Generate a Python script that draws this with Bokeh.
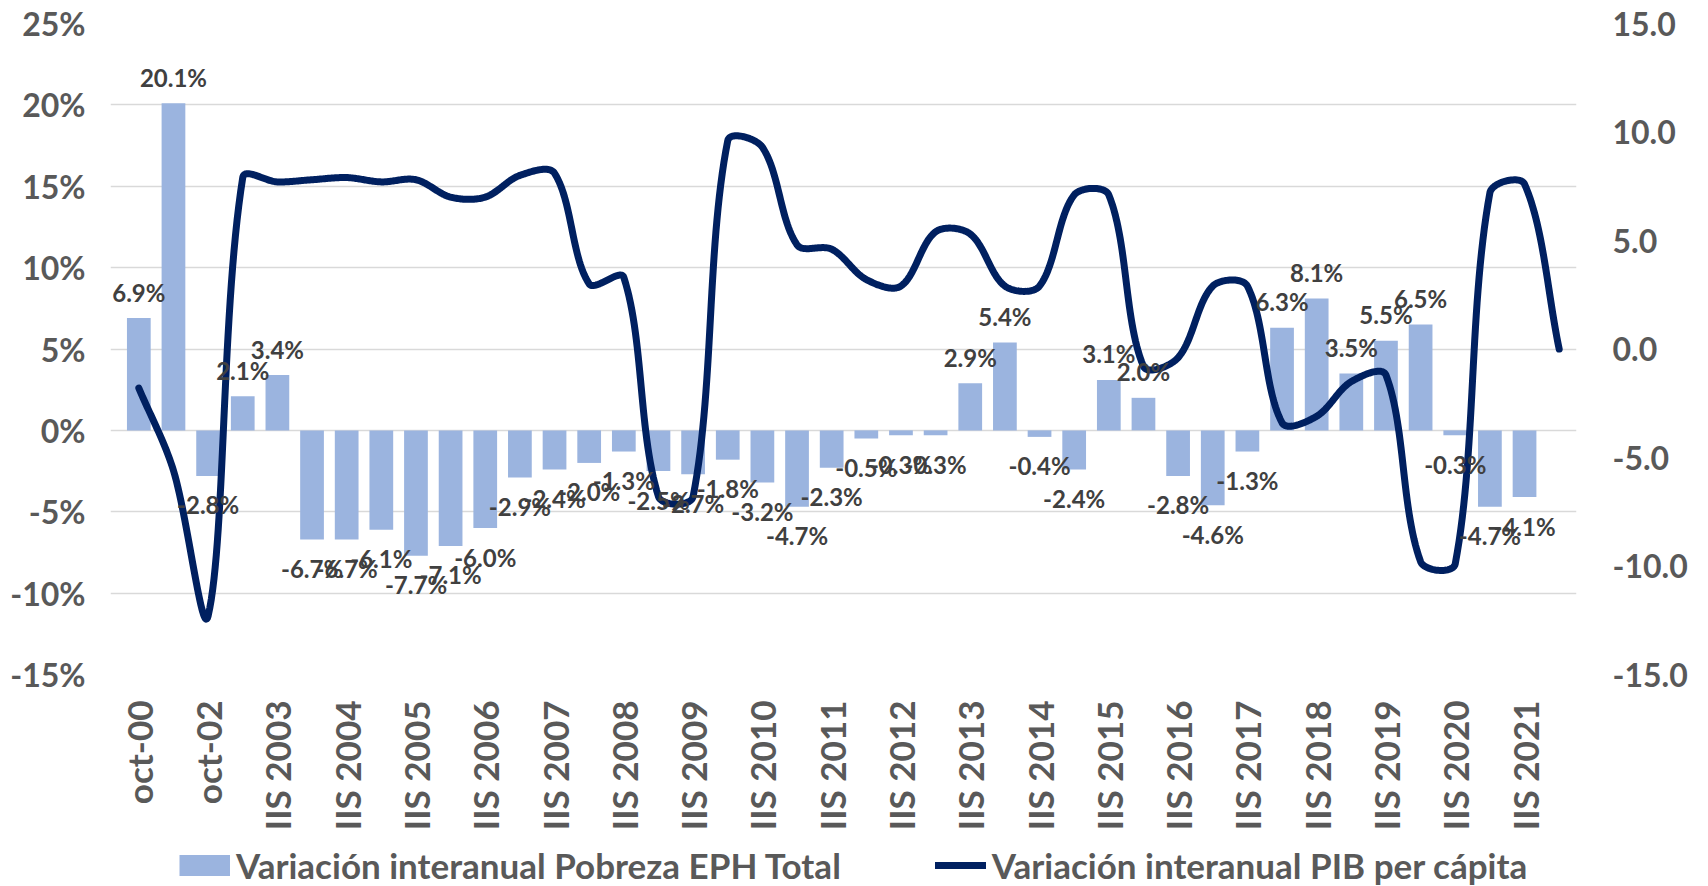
import numpy as np
from bokeh.plotting import figure
from bokeh.layouts import column
from bokeh.models import (Range1d, LinearAxis, FixedTicker, PrintfTickFormatter,
                          ColumnDataSource, Legend, LegendItem)
from bokeh.embed import file_html
from bokeh.resources import INLINE
from bokeh.core.properties import value

categories = ["oct-00", "oct-01", "oct-02", "may-03", "IIS 2003",
              "IS 2004", "IIS 2004", "IS 2005", "IIS 2005", "IS 2006", "IIS 2006",
              "IS 2007", "IIS 2007", "IS 2008", "IIS 2008", "IS 2009", "IIS 2009",
              "IS 2010", "IIS 2010", "IS 2011", "IIS 2011", "IS 2012", "IIS 2012",
              "IS 2013", "IIS 2013", "IS 2014", "IIS 2014", "IS 2015", "IIS 2015",
              "IS 2016", "IIS 2016", "IS 2017", "IIS 2017", "IS 2018", "IIS 2018",
              "IS 2019", "IIS 2019", "IS 2020", "IIS 2020", "IS 2021", "IIS 2021",
              "IS 2022"]

pobreza = [6.9, 20.1, -2.8, 2.1, 3.4, -6.7, -6.7, -6.1, -7.7, -7.1, -6.0,
           -2.9, -2.4, -2.0, -1.3, -2.5, -2.7, -1.8, -3.2, -4.7, -2.3,
           -0.5, -0.3, -0.3, 2.9, 5.4, -0.4, -2.4, 3.1, 2.0, -2.8,
           -4.6, -1.3, 6.3, 8.1, 3.5, 5.5, 6.5, -0.3, -4.7, -4.1]

pib = [-1.8, -5.6, -12.3, 7.9, 7.7, 7.8, 7.9, 7.7, 7.8, 7.0, 7.0,
       8.0, 8.1, 3.0, 3.3, -6.8, -6.8, 9.6, 9.3, 4.8, 4.6,
       3.2, 2.9, 5.4, 5.3, 2.9, 2.9, 7.1, 7.1, -0.8, -0.4,
       2.9, 2.9, -3.4, -3.1, -1.5, -1.2, -9.8, -9.9, 7.2, 7.6, 0.0]

left_ticks = [-15, -10, -5, 0, 5, 10, 15, 20, 25]
right_ticks = [-15, -10, -5, 0, 5, 10, 15]

BAR = "#9BB4DF"
LINE = "#002060"
FONT = "Lato"

PLOT_LEFT, PLOT_W, FRAME_H = 121, 1455, 651
EXTRA_LEFT = 11  # room so that the first data label is not clipped


def smooth(xs, ys, sx, sy, n=30):
    """Excel-like smoothed line: Bezier segments whose control points follow the
    neighbour direction, scaled by adjacent segment lengths (in pixel space)."""
    P = np.column_stack([np.asarray(xs, float) * sx, np.asarray(ys, float) * sy])
    m = len(P)
    cout = np.zeros_like(P)
    cin = np.zeros_like(P)
    for i in range(m):
        a = P[max(i - 1, 0)]
        b = P[min(i + 1, m - 1)]
        d = b - a
        l1 = np.hypot(*(P[i] - a))
        l2 = np.hypot(*(b - P[i]))
        tot = l1 + l2 if (l1 + l2) > 0 else 1.0
        cout[i] = P[i] + d * (l2 / tot) / 3.0
        cin[i] = P[i] - d * (l1 / tot) / 3.0
    t = np.linspace(0, 1, n + 1)[1:, None]
    out = [P[0]]
    for i in range(m - 1):
        p1, c1, c2, p2 = P[i], cout[i], cin[i + 1], P[i + 1]
        seg = (1 - t) ** 3 * p1 + 3 * (1 - t) ** 2 * t * c1 + 3 * (1 - t) * t ** 2 * c2 + t ** 3 * p2
        out.extend(seg)
    out = np.array(out)
    return out[:, 0] / sx, out[:, 1] / sy


n_cat = len(categories)
px_per_cat = PLOT_W / n_cat
px_per_unit = FRAME_H / 30.0
x_start = -0.5 - EXTRA_LEFT / px_per_cat

p = figure(width=1708, height=840, output_backend="svg", toolbar_location=None,
           x_range=Range1d(x_start, n_cat - 0.5), y_range=Range1d(-15, 25),
           min_border_left=PLOT_LEFT - EXTRA_LEFT, min_border_right=132, min_border_top=23,
           min_border_bottom=166)
p.outline_line_color = None
p.extra_y_ranges = {"pib": Range1d(-15, 15)}

xb = list(range(len(pobreza)))
bar_src = ColumnDataSource(dict(x=xb, top=pobreza))
bars = p.vbar(x="x", top="top", bottom=0, width=0.685, source=bar_src,
              fill_color=BAR, line_color=None)

cx, cy = smooth(list(range(len(pib))), pib, px_per_cat, px_per_unit)
line_src = ColumnDataSource(dict(x=cx, y=cy))
line = p.line(x="x", y="y", source=line_src, y_range_name="pib", line_color=LINE,
              line_width=7, line_cap="round", line_join="round")

labels = [f"{v:.1f}%" for v in pobreza]
pos = ColumnDataSource(dict(x=[x for x, v in zip(xb, pobreza) if v >= 0],
                            y=[v for v in pobreza if v >= 0],
                            t=[l for l, v in zip(labels, pobreza) if v >= 0]))
neg = ColumnDataSource(dict(x=[x for x, v in zip(xb, pobreza) if v < 0],
                            y=[v for v in pobreza if v < 0],
                            t=[l for l, v in zip(labels, pobreza) if v < 0]))
for src, off in ((pos, -26), (neg, 29)):
    p.text(x="x", y="y", text="t", source=src, y_offset=off,
           text_align="center", text_baseline="middle",
           text_font=value(FONT), text_font_style="bold",
           text_font_size="24px", text_color="#404040")

# axes
p.yaxis.ticker = FixedTicker(ticks=left_ticks)
p.yaxis.formatter = PrintfTickFormatter(format="%d%%")
right = LinearAxis(y_range_name="pib", ticker=FixedTicker(ticks=right_ticks),
                   formatter=PrintfTickFormatter(format="%.1f"))
p.add_layout(right, "right")
p.xaxis.ticker = FixedTicker(ticks=list(range(0, len(pobreza), 2)))
p.xaxis.major_label_overrides = {i: categories[i] for i in range(0, len(pobreza), 2)}
p.xaxis.major_label_orientation = np.pi / 2

for ax in (p.yaxis[0], right, p.xaxis[0]):
    ax.axis_line_color = None
    ax.major_tick_line_color = None
    ax.minor_tick_line_color = None
    ax.major_tick_out = 0
    ax.major_tick_in = 0
    ax.major_label_text_font = FONT
    ax.major_label_text_font_style = "bold"
    ax.major_label_text_font_size = "32px"
    ax.major_label_text_color = "#595959"
p.yaxis[0].major_label_standoff = 36 - EXTRA_LEFT
right.major_label_standoff = 36
p.xaxis[0].major_label_standoff = 26
p.xaxis[0].major_label_text_font_size = "35px"

p.xgrid.grid_line_color = None
p.ygrid.ticker = FixedTicker(ticks=left_ticks)
p.ygrid.grid_line_color = "#D9D9D9"
p.ygrid.grid_line_width = 1.5

# legend strip below the chart (its frame is aligned with the chart's frame);
# its ranges lie away from the data, so only the legend swatches are drawn
lg = figure(width=1708, height=46, output_backend="svg", toolbar_location=None,
            x_range=Range1d(1000, 2000), y_range=Range1d(1000, 2000),
            min_border_left=0, min_border_right=0, min_border_top=0, min_border_bottom=0)
lg.outline_line_color = None
lg.xaxis.visible = False
lg.yaxis.visible = False
lg.xgrid.visible = False
lg.ygrid.visible = False
# bar swatch drawn as a thick butt-capped stroke so it fills the whole swatch box
lbar = lg.line(x="x", y="top", source=bar_src, line_color=BAR, line_width=21, line_cap="butt")
lline = lg.line(x="x", y="y", source=line_src,
                line_color=LINE, line_width=7, line_cap="round")
legend = Legend(items=[LegendItem(label="Variación interanual Pobreza EPH Total", renderers=[lbar]),
                       LegendItem(label="Variación interanual PIB per cápita", renderers=[lline])],
                orientation="horizontal", location=(58 + EXTRA_LEFT, 0),
                label_text_font=FONT, label_text_font_style="bold",
                label_text_font_size="35px", label_text_color="#595959",
                glyph_width=51, glyph_height=22, spacing=94, label_standoff=6,
                padding=0, margin=0, border_line_color=None, background_fill_alpha=0)
lg.add_layout(legend, "center")

layout = column(p, lg, spacing=0)
open("out.html", "w").write(file_html(layout, INLINE))
